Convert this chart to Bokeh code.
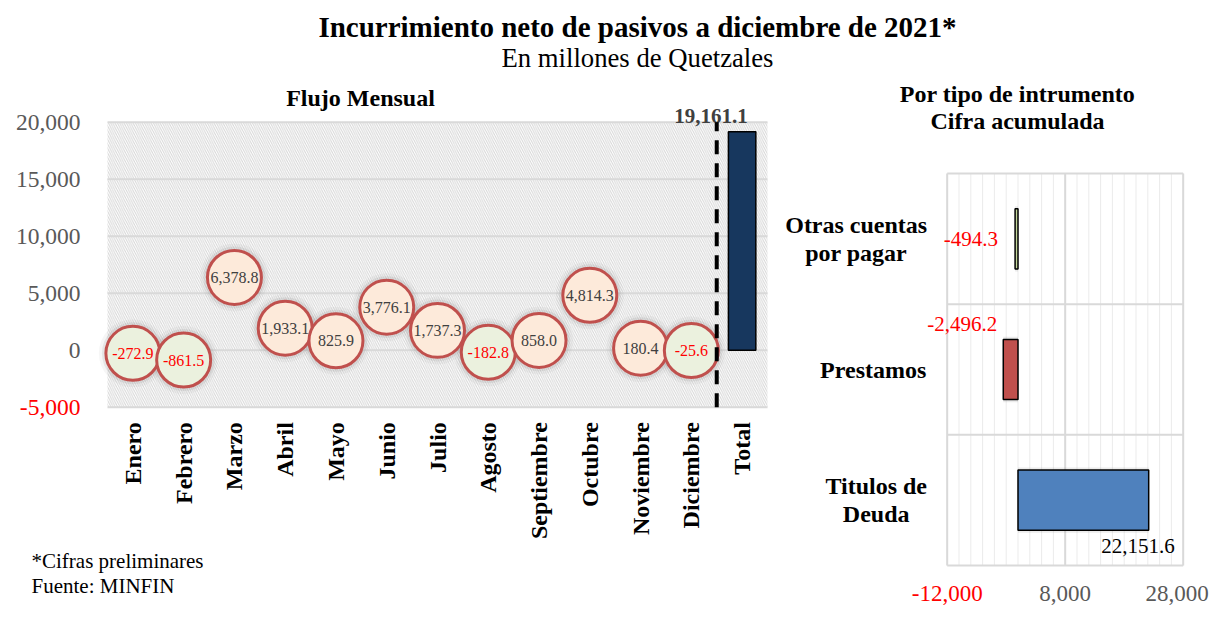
import math
from bokeh.plotting import figure
from bokeh.models import Range1d, ColumnDataSource, Label
from bokeh.core.properties import value
from bokeh.embed import file_html
from bokeh.resources import INLINE

# ---------------- data ----------------
months = ["Enero", "Febrero", "Marzo", "Abril", "Mayo", "Junio", "Julio",
          "Agosto", "Septiembre", "Octubre", "Noviembre", "Diciembre"]
monthly = [-272.9, -861.5, 6378.8, 1933.1, 825.9, 3776.1, 1737.3,
           -182.8, 858.0, 4814.3, 180.4, -25.6]
total_label = "Total"
total_value = 19161.1
y_ticks = [-5000, 0, 5000, 10000, 15000, 20000]

instruments = ["Titulos de\nDeuda", "Prestamos", "Otras cuentas\npor pagar"]  # bottom -> top
instrument_values = [22151.6, -2496.2, -494.3]
x2_ticks = [-12000, 8000, 28000]
x2_minor = list(range(-12000, 28001, 2000))

title = "Incurrimiento neto de pasivos a diciembre de 2021*"
subtitle = "En millones de Quetzales"
left_title = "Flujo Mensual"
right_title = ["Por tipo de intrumento", "Cifra acumulada"]
notes = ["*Cifras preliminares", "Fuente: MINFIN"]

# ---------------- styles / layout ----------------
FONT = "Liberation Serif"
GRID = "#D9D9D9"
MINOR = "#EBEBEB"
TICK = "#595959"
RED = "#FF0000"
BUBBLE_LINE = "#C0504D"
POS_FILL = "#FDEADA"
NEG_FILL = "#EBF1DE"
instrument_colors = ["#4F81BD", "#C0504D", "#C3D69B"]

W, H = 1212, 620
# left panel plot area (canvas px)
LX0, LX1, LY_TOP, LY_BOT = 107, 767, 121.7, 406.7
# right panel plot area (canvas px)
RX0, RX1, RY_TOP, RY_BOT = 946.7, 1182.7, 173, 565

cats = months + [total_label]
ncat = len(cats)
xs = (LX1 - LX0) / ncat
ylo, yhi = y_ticks[0], y_ticks[-1]
ys = (LY_BOT - LY_TOP) / (yhi - ylo)
x_range = Range1d(0 - LX0 / xs, ncat + (W - LX1) / xs)
y_range = Range1d(ylo - (H - LY_BOT) / ys, yhi + LY_TOP / ys)

rlo, rhi = x2_ticks[0], x2_ticks[-1]
rs = (RX1 - RX0) / (rhi - rlo)
nrow = len(instruments)
rys = (RY_BOT - RY_TOP) / nrow

p = figure(width=W, height=H, x_range=x_range, y_range=y_range, title=None,
           toolbar_location=None, output_backend="svg", min_border=0,
           x_axis_type=None, y_axis_type=None, outline_line_color=None)
p.extra_x_ranges = {"rx": Range1d(rlo - RX0 / rs, rhi + (W - RX1) / rs)}
p.extra_y_ranges = {"ry": Range1d(0 - (H - RY_BOT) / rys, nrow + RY_TOP / rys)}

# ---------------- left panel ----------------
p.quad(left=[0], right=[ncat], bottom=[ylo], top=[yhi], fill_alpha=0, line_color=None,
       hatch_pattern="\\", hatch_color="#D6D6D6", hatch_scale=4.5, hatch_weight=1)
p.segment(x0=[0] * len(y_ticks), x1=[ncat] * len(y_ticks), y0=y_ticks, y1=y_ticks,
          line_color=GRID, line_width=2)

# y tick labels
p.text(x=[0] * len(y_ticks), y=y_ticks, text=[f"{t:,}" for t in y_ticks], x_offset=-27,
       text_color=[RED if t < 0 else TICK for t in y_ticks], text_font=value(FONT),
       text_font_size="23.5px", text_align="right", text_baseline="middle")
# x category labels
cx = [i + 0.5 for i in range(ncat)]
p.text(x=cx, y=[ylo] * ncat, text=cats, y_offset=15, angle=math.pi / 2,
       text_color="black", text_font=value(FONT), text_font_size="24px",
       text_font_style="bold", text_align="right", text_baseline="middle")

# bubbles
mx = cx[:len(months)]
src = ColumnDataSource(dict(
    x=mx, y=monthly,
    fill=[POS_FILL if v >= 0 else NEG_FILL for v in monthly],
    tc=["#404040" if v >= 0 else RED for v in monthly],
    label=[f"{v:,.1f}" for v in monthly],
))
p.scatter(x="x", y="y", size=68, fill_color="#808080", fill_alpha=0.07, line_color=None,
          source=src)
p.scatter(x="x", y="y", size=62, fill_color="#808080", fill_alpha=0.14, line_color=None,
          source=src)
p.scatter(x="x", y="y", size=54, fill_color="fill", line_color=BUBBLE_LINE,
          line_width=3, source=src)
p.text(x="x", y="y", text="label", text_color="tc", text_font=value(FONT),
       text_font_size="16px", text_align="center", text_baseline="middle", source=src)

# total bar
tx = cx[-1]
p.vbar(x=[tx], top=[total_value], bottom=0, width=0.54, fill_color="#17375E",
       line_color="black", line_width=1.5)
p.text(x=[tx], y=[total_value], text=[f"{total_value:,.1f}"], x_offset=-31, y_offset=-16,
       text_color="#404040", text_font=value(FONT), text_font_size="21px",
       text_font_style="bold", text_align="center", text_baseline="middle")
# dashed separator
p.segment(x0=[len(months)], x1=[len(months)], y0=[ylo], y1=[yhi], line_color="black",
          line_width=4, line_dash="14 9")

# ---------------- right panel ----------------
R = dict(x_range_name="rx", y_range_name="ry")
p.segment(x0=x2_minor, x1=x2_minor, y0=[0] * len(x2_minor), y1=[nrow] * len(x2_minor),
          line_color=MINOR, line_width=1, **R)
p.segment(x0=x2_ticks, x1=x2_ticks, y0=[0] * len(x2_ticks), y1=[nrow] * len(x2_ticks),
          line_color=GRID, line_width=2, **R)
rows = list(range(nrow + 1))
p.segment(x0=[rlo] * len(rows), x1=[rhi] * len(rows), y0=rows, y1=rows,
          line_color=GRID, line_width=2, **R)

ry = [i + 0.5 for i in range(nrow)]
bsrc = ColumnDataSource(dict(
    y=ry, right=instrument_values, color=instrument_colors,
    label=[f"{v:,.1f}" for v in instrument_values],
    tc=["black" if v >= 0 else RED for v in instrument_values],
    xo=[26, -6, -17], yo=[46, -46, 0],
))
p.hbar(y="y", right="right", left=0, height=0.5, fill_color="#808080", fill_alpha=0.15,
       line_color=None, source=bsrc, **R)
p.hbar(y="y", right="right", left=0, height=0.46, fill_color="color",
       line_color="black", line_width=1.5, source=bsrc, **R)
p.text(x="right", y="y", text="label", x_offset="xo", y_offset="yo", text_color="tc",
       text_font=value(FONT), text_font_size="21px", text_align="right",
       text_baseline="middle", source=bsrc, **R)

# right tick labels
p.text(x=x2_ticks, y=[0] * len(x2_ticks), text=[f"{t:,}" for t in x2_ticks], y_offset=20,
       x_offset=[0, 0, -6],
       text_color=[RED if t < 0 else TICK for t in x2_ticks], text_font=value(FONT),
       text_font_size="23px", text_align="center", text_baseline="top", **R)
# right category labels
p.text(x=[rlo] * nrow, y=ry, text=instruments, x_offset=[-71, -74, -91],
       text_color="black", text_font=value(FONT), text_font_size="24px",
       text_font_style="bold", text_align="center", text_baseline="middle",
       text_line_height=1.1, **R)

# ---------------- titles and notes ----------------
def lab(x, y, text, size, bold=False, align="center"):
    p.add_layout(Label(x=x, y=H - y, x_units="screen", y_units="screen", text=text,
                       text_font=FONT, text_font_size=size,
                       text_font_style="bold" if bold else "normal",
                       text_align=align, text_baseline="middle", text_color="black"))

lab(637, 26, title, "29px", bold=True)
lab(637, 57, subtitle, "26.7px")
lab(360, 97, left_title, "24px", bold=True)
for i, t in enumerate(right_title):
    lab(1017, 93 + 27 * i, t, "24px", bold=True)
for i, t in enumerate(notes):
    lab(31, 560 + 25 * i, t, "21px", align="left")

open("out.html", "w").write(file_html(p, INLINE))
